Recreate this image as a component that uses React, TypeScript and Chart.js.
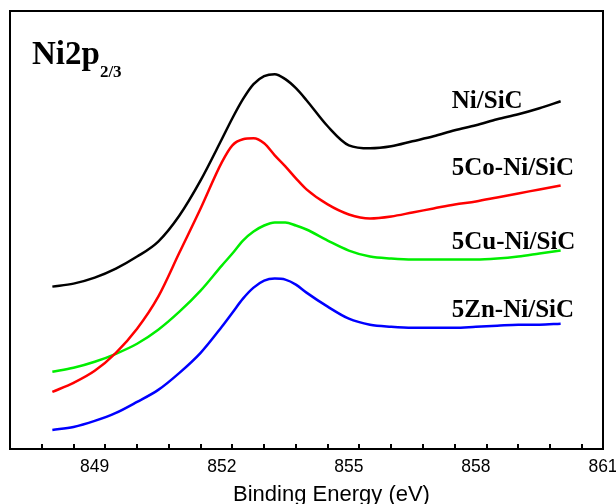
import React, { useEffect, useRef } from "react";
import { Chart, registerables } from "chart.js";

Chart.register(...registerables);

// Binding energy grid (eV)
const energies = [
  848, 848.5, 849, 849.5, 850, 850.5, 851, 851.5, 852, 852.25, 852.5, 852.75,
  853, 853.25, 853.5, 853.75, 854, 854.5, 855, 855.5, 856, 856.5, 857, 857.5,
  858, 858.5, 859, 859.5, 860,
];

// Intensities (arbitrary units, offset per series as in the figure)
const niSiC = [
  162, 165, 171, 180, 192, 207, 233, 268, 309, 330, 349, 364, 372, 374, 369,
  360, 348, 322, 303, 300, 302, 307, 312, 318, 323, 329, 334, 340, 347,
];
const coNiSiC = [
  57, 66, 78, 96, 120, 152, 196, 240, 286, 303, 309, 310, 305, 293, 282, 270,
  259, 244, 234, 230, 232, 236, 240, 244, 247, 251, 255, 259, 263,
];
const cuNiSiC = [
  77, 81, 87, 95, 105, 119, 137, 158, 183, 195, 208, 217, 223, 226, 226, 223,
  219, 208, 198, 192, 190, 189, 189, 189, 189, 190, 192, 195, 198,
];
const znNiSiC = [
  19, 22, 28, 36, 47, 59, 76, 96, 122, 136, 150, 161, 168, 170, 169, 164, 156,
  142, 130, 124, 122, 121, 121, 121, 122, 123, 124, 124, 125,
];

const seriesNames = ["Ni/SiC", "5Co-Ni/SiC", "5Cu-Ni/SiC", "5Zn-Ni/SiC"];
const seriesColors = ["#000000", "#ff0000", "#00ee00", "#0000ff"];
const seriesData = [niSiC, coNiSiC, cuNiSiC, znNiSiC];

// Label anchor positions in data units (energy, intensity at text baseline)
const labelX = [857.43, 857.43, 857.43, 857.43];
const labelY = [340, 273, 200, 132];

const xMin = 847;
const xMax = 861;
const yMin = 0;
const yMax = 437;
const majorTicks = [849, 852, 855, 858, 861];
const minorStep = 0.75;

const xTitle = "Binding Energy (eV)";

export default function App() {
  const ref = useRef<HTMLCanvasElement | null>(null);

  useEffect(() => {
    document.body.style.margin = "0";
    const canvas = ref.current;
    if (!canvas) return;

    const decorPlugin = {
      id: "decor",
      afterDraw(chart: any) {
        const { ctx, chartArea } = chart;
        const xs = chart.scales.x;
        const ys = chart.scales.y;
        ctx.save();
        // frame
        ctx.strokeStyle = "#000";
        ctx.lineWidth = 2;
        ctx.strokeRect(
          chartArea.left,
          chartArea.top,
          chartArea.right - chartArea.left,
          chartArea.bottom - chartArea.top
        );
        // inward ticks
        ctx.lineWidth = 2;
        for (let v = xMin + minorStep; v < xMax - 1e-6; v += minorStep) {
          const isMajor = majorTicks.some((m) => Math.abs(m - v) < 1e-6);
          const px = Math.round(xs.getPixelForValue(v));
          ctx.beginPath();
          ctx.moveTo(px, chartArea.bottom);
          ctx.lineTo(px, chartArea.bottom - (isMajor ? 9 : 5));
          ctx.stroke();
        }
        // series labels
        ctx.fillStyle = "#000";
        ctx.font = "bold 25px 'Liberation Serif', 'Times New Roman', serif";
        ctx.textAlign = "left";
        ctx.textBaseline = "alphabetic";
        seriesNames.forEach((n, i) => {
          ctx.fillText(n, xs.getPixelForValue(labelX[i]), ys.getPixelForValue(labelY[i]));
        });
        // panel title
        ctx.font = "bold 33px 'Liberation Serif', 'Times New Roman', serif";
        const tx = xs.getPixelForValue(847.52);
        const ty = ys.getPixelForValue(384);
        ctx.fillText("Ni2p", tx, ty);
        const w = ctx.measureText("Ni2p").width;
        ctx.font = "bold 17px 'Liberation Serif', 'Times New Roman', serif";
        ctx.fillText("2/3", tx + w, ty + 13);
        // axis title
        ctx.font = "22px 'Liberation Sans', Arial, sans-serif";
        ctx.textAlign = "center";
        ctx.fillText(xTitle, 331.5, 501);
        ctx.restore();
      },
    };

    const chart = new Chart(canvas, {
      type: "line",
      data: {
        datasets: seriesData.map((arr, i) => ({
          label: seriesNames[i],
          data: energies.map((e, j) => ({ x: e, y: arr[j] })),
          borderColor: seriesColors[i],
          borderWidth: 2.5,
          pointRadius: 0,
          cubicInterpolationMode: "monotone" as const,
          fill: false,
        })),
      },
      options: {
        responsive: false,
        animation: false,
        layout: { padding: { left: 10, right: 13, top: 11, bottom: 18 } },
        plugins: {
          legend: { display: false },
          tooltip: { enabled: false },
          title: { display: false },
        },
        scales: {
          x: {
            type: "linear",
            min: xMin,
            max: xMax,
            grid: { display: false, drawTicks: false },
            border: { display: false },
            afterBuildTicks: (scale: any) => {
              scale.ticks = majorTicks.map((v) => ({ value: v }));
            },
            afterFit: (scale: any) => {
              scale.paddingLeft = 0;
              scale.paddingRight = 0;
            },
            ticks: {
              autoSkip: false,
              maxRotation: 0,
              padding: 8,
              color: "#000",
              font: { family: "'Liberation Sans', Arial, sans-serif", size: 17.5 },
              callback: (v: any) => String(v),
            },
          },
          y: {
            type: "linear",
            display: false,
            min: yMin,
            max: yMax,
          },
        },
      },
      plugins: [decorPlugin],
    });

    return () => chart.destroy();
  }, []);

  return (
    <div style={{ position: "absolute", left: 0, top: 0, width: 616, height: 504 }}>
      <canvas ref={ref} width={616} height={504} />
    </div>
  );
}
